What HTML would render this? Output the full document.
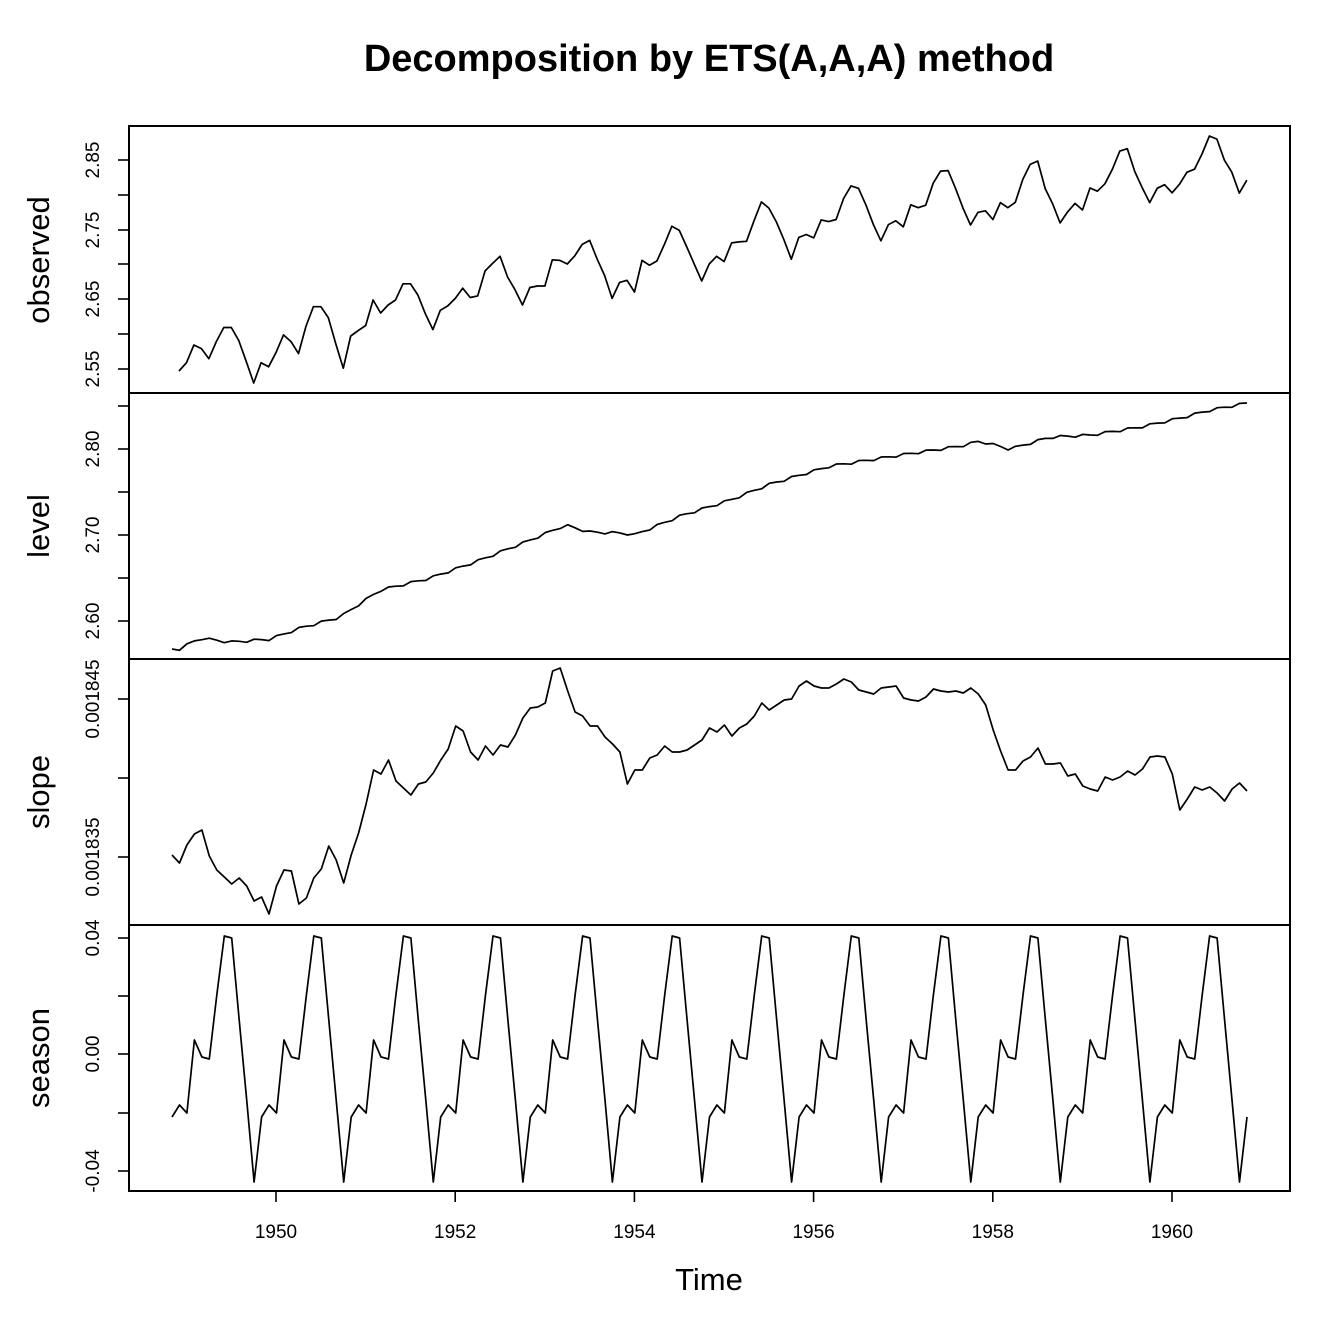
<!DOCTYPE html>
<html><head><meta charset="utf-8"><style>
html,body{margin:0;padding:0;background:#fff;}
svg{display:block;font-family:"Liberation Sans",sans-serif;}
</style></head><body>
<svg id="s" width="1344" height="1344" viewBox="0 0 1344 1344" xmlns="http://www.w3.org/2000/svg">
<rect width="1344" height="1344" fill="#fff"/>
<text x="709" y="71" text-anchor="middle" font-size="38" font-weight="bold">Decomposition by ETS(A,A,A) method</text>
<g fill="none" stroke="#000" stroke-width="2">
<rect x="129" y="126" width="1161" height="1065"/>
<line x1="129" y1="393" x2="1290" y2="393"/>
<line x1="129" y1="659" x2="1290" y2="659"/>
<line x1="129" y1="925" x2="1290" y2="925"/>
</g>
<g id="ticks" stroke="#000" stroke-width="1.6"></g>
<g id="labs" font-size="19"></g>
<g font-size="31" text-anchor="middle">
<text transform="translate(49,260) rotate(-90)">observed</text>
<text transform="translate(49,526) rotate(-90)">level</text>
<text transform="translate(49,792) rotate(-90)">slope</text>
<text transform="translate(49,1058) rotate(-90)">season</text>
<text x="709" y="1290">Time</text>
</g>
<g id="lines" fill="none" stroke="#000" stroke-width="1.7" stroke-linejoin="round"></g>
</svg>
<script>
var NS="http://www.w3.org/2000/svg";
function el(p,t,a,txt){var e=document.createElementNS(NS,t);for(var k in a)e.setAttribute(k,a[k]);if(txt)e.textContent=txt;document.getElementById(p).appendChild(e);}
function yt(ys,labs){ys.forEach(function(y,i){el("ticks","line",{x1:118,x2:129,y1:y,y2:y});if(labs[i])el("labs","text",{transform:"translate(99,"+y+") rotate(-90)","text-anchor":"middle"},labs[i]);});}
yt([369,334,299,264,230,195,160],["2.55","","2.65","","2.75","","2.85"]);
yt([621,578,535,492,449,406],["2.60","","2.70","","2.80",""]);
yt([857,778,699],["0.001835","","0.001845"]);
yt([1171,1113,1054,996,938],["-0.04","","0.00","","0.04"]);
for(var yr=1950;yr<=1960;yr+=2){var x=276+(yr-1950)*89.6;el("ticks","line",{x1:x,x2:x,y1:1191,y2:1202});el("labs","text",{x:x,y:1238,"text-anchor":"middle"},""+yr);}
function path(pts){el("lines","path",{d:"M"+pts.map(function(p){return p[0].toFixed(1)+","+p[1].toFixed(1)}).join("L")});}
var ap=[112,118,132,129,121,135,148,148,136,119,104,118,115,126,141,135,125,149,170,170,158,133,114,140,145,150,178,163,172,178,199,199,184,162,146,166,171,180,193,181,183,218,230,242,209,191,172,194,196,196,236,235,229,243,264,272,237,211,180,201,204,188,235,227,234,264,302,293,259,229,203,229,242,233,267,269,270,315,364,347,312,274,237,278,284,277,317,313,318,374,413,405,355,306,271,306,315,301,356,348,355,422,465,467,404,347,305,336,340,318,362,348,363,435,491,505,404,359,310,337,360,342,406,396,420,472,548,559,463,407,362,405,417,391,419,461,472,535,622,606,508,461,390,432];
function f(v){return Math.log(Math.log(v));}
var a0=f(104),a1=f(622);
path(ap.map(function(v,i){return [179+i*7.467,383-(f(v)-a0)/(a1-a0)*247];}));
var lk=[[172,649],[179,649],[200,638],[230,642],[270,639],[300,628],[340,617],[380,590],[430,578],[480,560],[530,540],[565,525],[590,532],[625,533],[634,535],[680,516],[730,500],[770,484],[830,466],[900,455],[960,446],[980,441],[1010,449],[1050,437],[1090,435],[1140,427],[1180,418],[1210,410],[1247,403]];
function interp(k,x){for(var i=0;i<k.length-1;i++){if(x<=k[i+1][0]){var t=(x-k[i][0])/(k[i+1][0]-k[i][0]);return k[i][1]+t*(k[i+1][1]-k[i][1]);}}return k[k.length-1][1];}
var lev=[];for(var i=0;i<145;i++){var x=172+i*7.465;lev.push([x,interp(lk,x)+(i%3==1?1.5:(i%3==2?-1:0))]);}
path(lev);
var sy=[855,863,845,834,830,856,870,877,884,878,886,901,897,914,886,870,871,904,898,878,869,846,860,883,855,833,804,770,774,760,781,788,795,784,782,773,760,749,726,731,752,760,746,755,745,747,735,718,708,707,703,671,668,691,712,716,726,726,737,744,752,784,770,770,758,755,746,752,752,750,745,740,728,732,725,736,728,724,716,703,710,705,700,699,686,681,686,688,688,684,679,682,690,692,694,688,687,686,698,700,701,697,689,691,692,691,693,688,694,705,730,751,770,770,761,757,748,764,764,763,776,774,786,789,791,777,780,777,771,775,769,757,756,757,774,810,799,787,790,787,793,801,789,783,791];
var n=sy.length;path(sy.map(function(y,i){return [172+i*(1247-172)/(n-1),y];}));
var sp=[1117,1105,1113,1040,1057,1059,995,936,938,1020,1100,1182];
var se=[];for(var i=0;i<145;i++)se.push([172+i*7.465,sp[i%12]]);
path(se);
</script>
</body></html>
